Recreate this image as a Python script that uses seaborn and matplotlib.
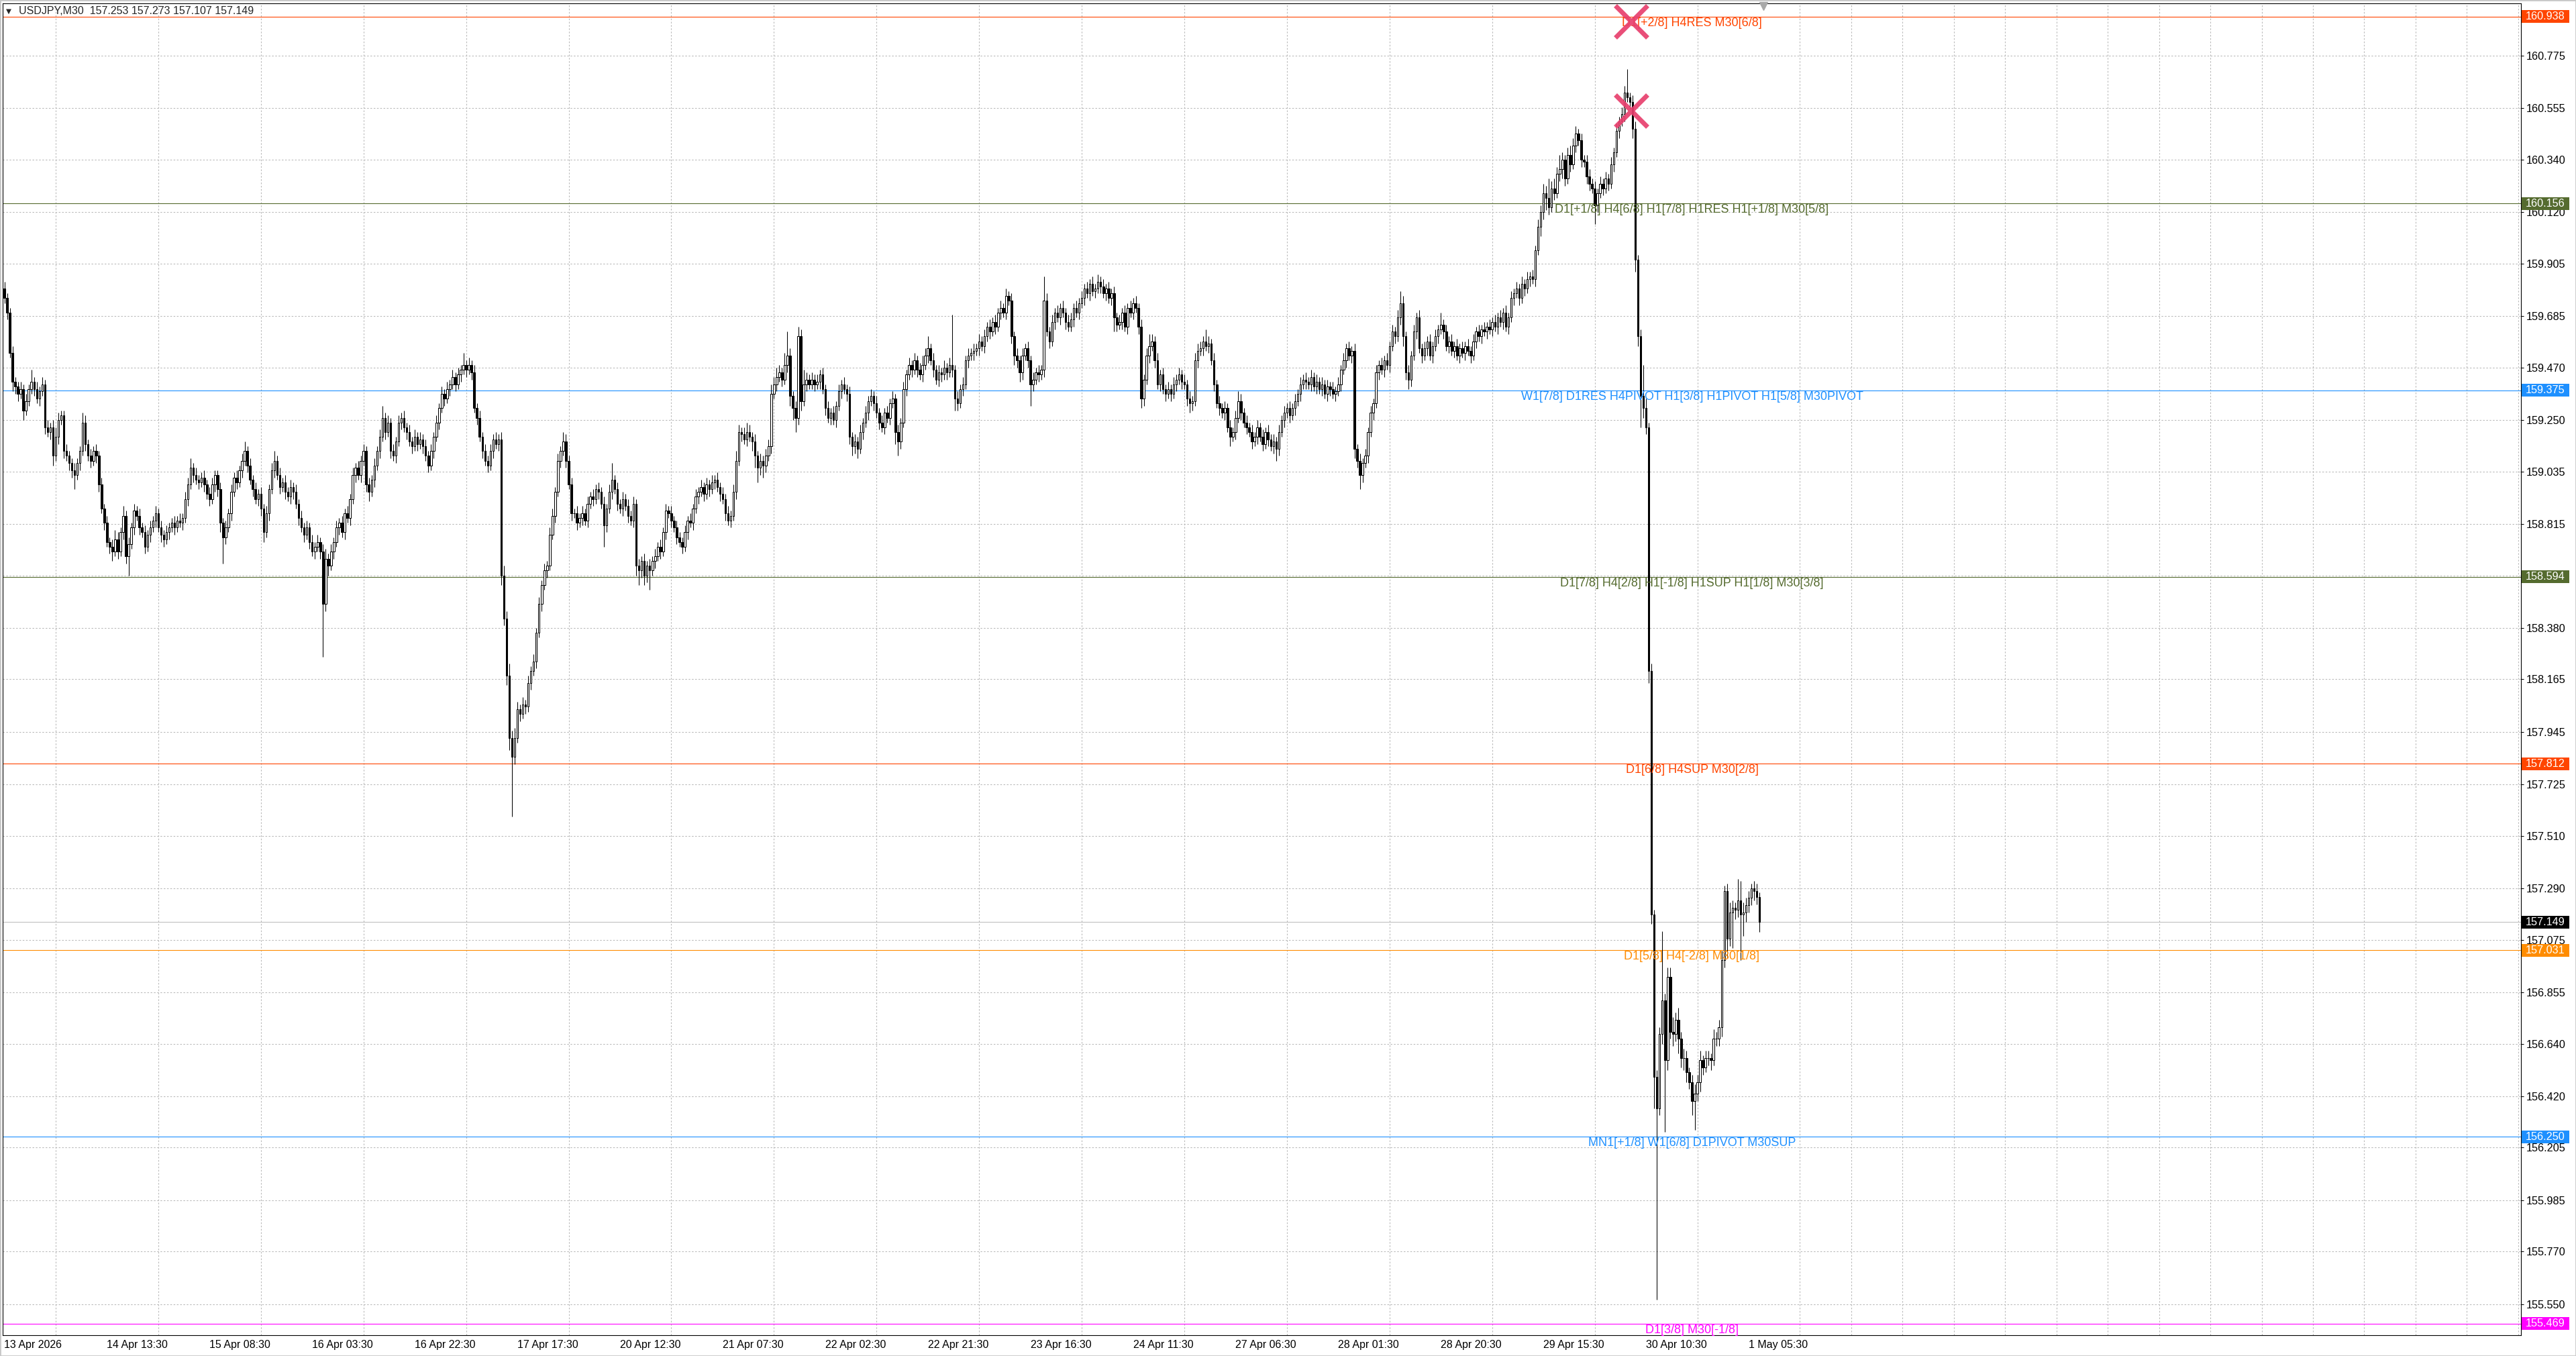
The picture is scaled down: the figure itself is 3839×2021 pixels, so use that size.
"""
USDJPY M30 - gráfico de velas con niveles Murrey (réplica de captura MT4).
"""

import numpy as np
import pandas as pd
import matplotlib
matplotlib.use("Agg")
import matplotlib.pyplot as plt
import matplotlib.transforms as mtransforms
from matplotlib.patches import Rectangle
import seaborn as sns

# ---------------------------------------------------------------------------
# Datos (cierres M30; mechas en centésimas de yen)
# ---------------------------------------------------------------------------
first_open = 159.80

close_apr13 = [159.76, 159.70, 159.53, 159.41, 159.39, 159.36, 159.38, 159.29, 159.33, 159.38, 159.41]
hi_apr13 = [3, 2, 2, 3, 2, 2, 3, 2, 3, 2, 5]
lo_apr13 = [2, 3, 2, 4, 3, 3, 2, 4, 2, 2, 2]

close_apr14 = [159.38, 159.34, 159.37, 159.40, 159.22, 159.20, 159.22, 159.10, 159.18, 159.25,
               159.27, 159.12, 159.10, 159.07, 159.04, 159.02, 159.07, 159.12, 159.24, 159.15,
               159.10, 159.08, 159.12, 159.10, 158.98, 158.88, 158.82, 158.74, 158.72, 158.70,
               158.75, 158.70, 158.78, 158.85, 158.68, 158.73, 158.80, 158.87, 158.85, 158.80,
               158.78, 158.72, 158.77, 158.80, 158.83, 158.86, 158.80, 158.77]
hi_apr14 = [2, 3, 2, 3, 2, 3, 2, 3, 4, 3, 2, 2, 3, 2, 2, 3, 2, 2, 4, 3, 2, 3, 2, 3, 2, 3, 2, 3, 2, 3,
            4, 3, 2, 4, 2, 3, 2, 3, 2, 3, 2, 3, 2, 3, 2, 3, 2, 3]
lo_apr14 = [3, 2, 3, 2, 3, 2, 3, 4, 2, 3, 2, 3, 2, 3, 3, 6, 2, 3, 2, 3, 2, 3, 2, 3, 3, 2, 3, 2, 3, 4,
            2, 3, 2, 3, 3, 8, 2, 3, 2, 3, 2, 3, 2, 3, 2, 3, 2, 3]

close_apr15 = [158.75, 158.78, 158.80, 158.82, 158.80, 158.83, 158.82, 158.84, 158.92, 158.98,
               159.05, 159.02, 159.00, 158.99, 159.01, 158.98, 158.94, 158.92, 158.98, 159.02,
               158.96, 158.82, 158.76, 158.80, 158.86, 158.95, 159.01, 158.99, 159.04, 159.08,
               159.12, 159.06, 159.00, 158.96, 158.92, 158.94, 158.88, 158.78, 158.86, 158.96,
               159.04, 159.08, 159.02, 158.97, 158.99, 158.95, 158.93, 158.97]
hi_apr15 = [2, 3, 2, 2, 3, 2, 3, 2, 3, 3, 4, 2, 3, 2, 2, 3, 2, 3, 3, 2, 2, 3, 2, 3, 2, 3, 2, 3, 2, 3,
            4, 2, 3, 2, 3, 2, 3, 2, 3, 2, 3, 4, 2, 3, 2, 3, 2, 3]
lo_apr15 = [3, 2, 3, 2, 3, 2, 2, 3, 2, 3, 2, 3, 2, 3, 2, 3, 2, 3, 2, 3, 3, 4, 11, 3, 2, 3, 2, 3, 2, 3,
            2, 3, 2, 3, 2, 3, 3, 4, 2, 3, 2, 3, 2, 3, 2, 3, 2, 3]

close_apr16 = [158.95, 158.90, 158.84, 158.80, 158.77, 158.80, 158.74, 158.70, 158.72, 158.74,
               158.70, 158.48, 158.67, 158.64, 158.70, 158.74, 158.80, 158.82, 158.78, 158.86,
               158.84, 158.92, 159.02, 159.05, 159.02, 159.08, 159.12, 158.98, 158.95, 159.00,
               159.06, 159.12, 159.18, 159.26, 159.20, 159.24, 159.12, 159.10, 159.16, 159.24,
               159.26, 159.22, 159.20, 159.16, 159.14, 159.18, 159.15, 159.17]
hi_apr16 = [2, 3, 2, 3, 2, 3, 2, 3, 2, 3, 2, 3, 4, 2, 3, 2, 3, 2, 3, 2, 3, 2, 3, 2, 3, 2, 3, 2, 3, 2,
            3, 2, 3, 5, 2, 3, 2, 3, 2, 3, 2, 3, 2, 3, 2, 3, 2, 3]
lo_apr16 = [3, 2, 3, 2, 3, 2, 3, 2, 3, 2, 3, 22, 3, 4, 2, 3, 2, 3, 2, 3, 2, 3, 2, 3, 2, 3, 2, 3, 4, 2,
            3, 2, 3, 2, 3, 2, 3, 2, 3, 2, 3, 2, 3, 2, 3, 2, 3, 2]

close_apr17 = [159.14, 159.10, 159.06, 159.12, 159.18, 159.24, 159.30, 159.36, 159.34, 159.38,
               159.40, 159.43, 159.40, 159.44, 159.46, 159.48, 159.46, 159.48, 159.45, 159.30,
               159.26, 159.18, 159.12, 159.08, 159.06, 159.12, 159.17, 159.15, 159.17, 158.60,
               158.42, 158.18, 157.92, 157.84, 157.92, 158.04, 158.02, 158.06, 158.05, 158.15,
               158.20, 158.24, 158.36, 158.48, 158.56, 158.62, 158.64, 158.77]
hi_apr17 = [2, 3, 2, 3, 2, 3, 2, 3, 2, 3, 2, 3, 2, 3, 2, 5, 2, 3, 2, 3, 2, 3, 2, 3, 2, 3, 2, 3, 2, 3,
            4, 3, 5, 3, 4, 3, 2, 3, 2, 3, 2, 3, 2, 3, 2, 3, 2, 3]
lo_apr17 = [3, 2, 3, 2, 3, 2, 3, 2, 3, 2, 3, 2, 3, 2, 3, 2, 3, 2, 3, 2, 3, 2, 3, 2, 3, 2, 3, 2, 3, 4,
            3, 4, 5, 25, 3, 2, 3, 2, 3, 2, 3, 2, 3, 2, 3, 2, 3, 2]

close_apr20 = [158.85, 158.95, 159.08, 159.12, 159.16, 159.08, 158.98, 158.86, 158.86, 158.82,
               158.84, 158.86, 158.83, 158.90, 158.93, 158.92, 158.96, 158.95, 158.90, 158.81,
               158.88, 158.95, 159.00, 158.96, 158.90, 158.88, 158.92, 158.89, 158.85, 158.83,
               158.90, 158.64, 158.62, 158.66, 158.60, 158.64, 158.62, 158.66, 158.68, 158.72,
               158.70, 158.78, 158.87, 158.86, 158.83, 158.80, 158.76, 158.74]
hi_apr20 = [3, 2, 3, 2, 4, 3, 2, 3, 2, 3, 2, 3, 2, 3, 2, 3, 2, 3, 2, 3, 2, 3, 7, 2, 3, 2, 3, 2, 3, 2,
            3, 2, 3, 2, 3, 2, 3, 2, 3, 2, 3, 2, 3, 2, 3, 2, 3, 2]
lo_apr20 = [2, 3, 2, 3, 2, 3, 2, 3, 2, 3, 2, 3, 2, 3, 2, 3, 2, 3, 2, 9, 3, 2, 3, 2, 3, 2, 3, 2, 3, 2,
            3, 4, 6, 3, 4, 3, 8, 2, 3, 2, 3, 2, 3, 2, 3, 2, 3, 2]

close_apr21 = [158.72, 158.78, 158.83, 158.82, 158.88, 158.93, 158.95, 158.97, 158.94, 158.98,
               158.96, 158.99, 159.00, 158.97, 158.94, 158.92, 158.86, 158.83, 158.85, 158.95,
               159.08, 159.20, 159.19, 159.17, 159.20, 159.18, 159.16, 159.10, 159.05, 159.08,
               159.06, 159.10, 159.14, 159.36, 159.40, 159.43, 159.45, 159.42, 159.48, 159.52,
               159.35, 159.30, 159.26, 159.60, 159.33, 159.40, 159.42, 159.40]
hi_apr21 = [2, 3, 2, 3, 2, 3, 2, 3, 2, 3, 2, 3, 2, 3, 2, 3, 2, 3, 2, 3, 4, 3, 2, 3, 4, 3, 2, 3, 2, 3,
            2, 3, 3, 4, 3, 4, 3, 2, 5, 10, 3, 2, 3, 4, 3, 6, 3, 2]
lo_apr21 = [3, 2, 3, 2, 3, 2, 3, 2, 3, 2, 3, 2, 3, 2, 3, 2, 3, 2, 3, 2, 3, 2, 3, 2, 3, 2, 4, 5, 6, 3,
            5, 3, 2, 3, 2, 3, 2, 3, 2, 3, 4, 5, 6, 3, 4, 2, 3, 2]

close_apr22 = [159.42, 159.40, 159.41, 159.44, 159.38, 159.30, 159.26, 159.28, 159.25, 159.31,
               159.37, 159.40, 159.38, 159.36, 159.18, 159.14, 159.16, 159.13, 159.20, 159.24,
               159.28, 159.33, 159.35, 159.32, 159.28, 159.24, 159.22, 159.28, 159.26, 159.32,
               159.34, 159.20, 159.16, 159.24, 159.38, 159.44, 159.48, 159.46, 159.50, 159.46,
               159.44, 159.48, 159.52, 159.55, 159.50, 159.46, 159.42, 159.45]
hi_apr22 = [3, 2, 3, 2, 3, 2, 3, 2, 3, 2, 3, 2, 3, 2, 3, 2, 3, 2, 3, 2, 3, 2, 3, 2, 3, 2, 3, 2, 3, 2,
            3, 2, 3, 2, 3, 2, 3, 2, 3, 2, 3, 4, 3, 5, 2, 3, 2, 3]
lo_apr22 = [2, 3, 2, 3, 2, 3, 2, 3, 2, 3, 2, 3, 2, 3, 3, 4, 3, 4, 2, 3, 2, 3, 2, 3, 2, 3, 2, 3, 2, 3,
            2, 5, 6, 3, 2, 3, 2, 3, 2, 3, 2, 3, 2, 3, 2, 3, 2, 3]

close_apr23 = [159.44, 159.47, 159.45, 159.48, 159.46, 159.34, 159.32, 159.38, 159.40, 159.50,
               159.52, 159.53, 159.54, 159.55, 159.58, 159.56, 159.60, 159.64, 159.62, 159.66,
               159.64, 159.70, 159.72, 159.70, 159.77, 159.75, 159.60, 159.52, 159.50, 159.45,
               159.52, 159.55, 159.50, 159.40, 159.42, 159.45, 159.44, 159.46, 159.75, 159.62,
               159.58, 159.66, 159.70, 159.68, 159.72, 159.70, 159.66, 159.64]
hi_apr23 = [2, 3, 2, 3, 21, 2, 3, 2, 3, 2, 3, 2, 3, 2, 3, 2, 3, 2, 3, 2, 3, 2, 3, 2, 3, 2, 3, 2, 3, 2,
            3, 2, 3, 2, 3, 2, 3, 2, 10, 3, 2, 3, 2, 3, 2, 3, 2, 3]
lo_apr23 = [3, 2, 3, 2, 3, 5, 3, 2, 3, 2, 3, 2, 3, 2, 3, 2, 3, 2, 3, 2, 3, 2, 3, 2, 3, 2, 3, 4, 3, 4,
            3, 2, 3, 9, 3, 2, 3, 2, 3, 2, 3, 2, 3, 2, 3, 2, 3, 2]

close_apr24 = [159.67, 159.72, 159.70, 159.74, 159.76, 159.80, 159.78, 159.82, 159.79, 159.80,
               159.83, 159.81, 159.78, 159.80, 159.76, 159.78, 159.68, 159.65, 159.66, 159.70,
               159.64, 159.72, 159.70, 159.74, 159.72, 159.64, 159.34, 159.42, 159.52, 159.56,
               159.58, 159.50, 159.40, 159.44, 159.38, 159.36, 159.38, 159.36, 159.40, 159.42,
               159.44, 159.41, 159.40, 159.34, 159.32, 159.33, 159.50, 159.54]
hi_apr24 = [3, 2, 3, 2, 3, 2, 3, 2, 3, 2, 3, 2, 3, 2, 3, 2, 3, 2, 3, 2, 3, 2, 3, 2, 3, 2, 3, 2, 3, 5,
            3, 2, 3, 2, 3, 2, 3, 2, 3, 2, 3, 2, 3, 2, 3, 2, 3, 3]
lo_apr24 = [2, 3, 2, 3, 2, 3, 2, 3, 2, 3, 2, 3, 2, 3, 2, 3, 6, 3, 2, 3, 2, 3, 2, 3, 2, 3, 4, 3, 2, 3,
            2, 3, 2, 3, 2, 3, 2, 3, 2, 3, 2, 3, 2, 3, 4, 3, 2, 3]

close_apr27 = [159.55, 159.58, 159.56, 159.57, 159.50, 159.40, 159.32, 159.30, 159.28, 159.30,
               159.22, 159.18, 159.20, 159.26, 159.33, 159.28, 159.24, 159.22, 159.20, 159.16,
               159.18, 159.22, 159.18, 159.15, 159.20, 159.17, 159.14, 159.16, 159.13, 159.20,
               159.25, 159.28, 159.30, 159.27, 159.30, 159.33, 159.36, 159.40, 159.42, 159.41,
               159.40, 159.43, 159.39, 159.41, 159.38, 159.40, 159.36, 159.39]
hi_apr27 = [3, 2, 5, 3, 2, 3, 2, 3, 2, 3, 2, 3, 2, 3, 4, 3, 2, 3, 2, 3, 2, 3, 2, 3, 2, 3, 2, 3, 2, 3,
            2, 3, 2, 3, 2, 3, 2, 3, 2, 3, 2, 3, 2, 3, 2, 3, 2, 3]
lo_apr27 = [2, 3, 2, 3, 2, 3, 2, 3, 2, 3, 2, 4, 2, 3, 2, 3, 2, 3, 2, 3, 2, 3, 2, 3, 2, 3, 2, 3, 5, 3,
            2, 3, 2, 3, 2, 3, 2, 3, 2, 3, 2, 3, 2, 3, 2, 3, 2, 3]

close_apr28 = [159.38, 159.36, 159.37, 159.40, 159.46, 159.50, 159.55, 159.52, 159.54, 159.13,
               159.08, 159.02, 159.07, 159.10, 159.20, 159.28, 159.32, 159.45, 159.48, 159.46,
               159.50, 159.48, 159.56, 159.62, 159.60, 159.68, 159.74, 159.60, 159.45, 159.42,
               159.52, 159.62, 159.68, 159.55, 159.52, 159.55, 159.58, 159.52, 159.56, 159.60,
               159.63, 159.65, 159.62, 159.56, 159.58, 159.54, 159.56, 159.52]
hi_apr28 = [2, 3, 2, 3, 2, 3, 2, 3, 2, 3, 2, 3, 2, 3, 2, 3, 2, 3, 2, 3, 2, 3, 2, 3, 2, 3, 5, 3, 2, 3,
            2, 3, 2, 3, 2, 3, 2, 3, 2, 3, 2, 5, 2, 3, 2, 3, 2, 3]
lo_apr28 = [3, 2, 3, 2, 3, 2, 3, 2, 3, 4, 3, 6, 3, 2, 3, 2, 3, 2, 3, 2, 3, 2, 3, 2, 3, 2, 3, 4, 3, 4,
            3, 2, 3, 2, 3, 2, 3, 2, 3, 2, 3, 2, 3, 2, 3, 2, 3, 2]

close_apr29 = [159.55, 159.53, 159.56, 159.54, 159.52, 159.58, 159.62, 159.60, 159.63, 159.62,
               159.64, 159.63, 159.66, 159.64, 159.68, 159.66, 159.70, 159.64, 159.68, 159.76,
               159.78, 159.80, 159.76, 159.82, 159.80, 159.84, 159.85, 159.84, 159.96, 160.06,
               160.12, 160.20, 160.18, 160.14, 160.22, 160.20, 160.28, 160.30, 160.34, 160.26,
               160.36, 160.32, 160.40, 160.45, 160.42, 160.34, 160.33, 160.27]
hi_apr29 = [2, 3, 2, 3, 2, 3, 2, 3, 2, 3, 2, 3, 2, 3, 2, 3, 2, 3, 2, 3, 2, 3, 2, 3, 2, 3, 2, 3, 2, 3,
            3, 4, 3, 8, 3, 4, 3, 6, 3, 2, 3, 4, 3, 3, 2, 3, 2, 3]
lo_apr29 = [3, 2, 3, 2, 3, 2, 3, 2, 3, 2, 3, 2, 3, 2, 3, 2, 3, 2, 3, 2, 3, 2, 3, 2, 3, 2, 3, 2, 3, 2,
            4, 3, 5, 3, 2, 3, 2, 3, 4, 3, 2, 3, 2, 3, 2, 3, 2, 3]

close_apr30 = [160.24, 160.22, 160.15, 160.20, 160.24, 160.22, 160.26, 160.24, 160.32, 160.37,
               160.46, 160.50, 160.53, 160.62, 160.60, 160.58, 160.47, 159.92, 159.60, 159.35,
               159.30, 159.22, 158.20, 157.18, 156.50, 156.37, 156.68, 156.82, 156.57, 156.92,
               156.69, 156.68, 156.74, 156.66, 156.58, 156.58, 156.52, 156.48, 156.40, 156.43,
               156.48, 156.57, 156.54, 156.58, 156.58, 156.57, 156.66, 156.66]
hi_apr30 = [3, 2, 3, 2, 3, 2, 3, 2, 3, 2, 3, 2, 3, 3, 10, 2, 3, 3, 2, 3, 13, 4, 2, 3, 2, 3, 3, 29, 3, 4,
            4, 6, 3, 5, 3, 4, 3, 2, 3, 4, 3, 4, 2, 3, 3, 2, 4, 3]
lo_apr30 = [3, 2, 8, 3, 2, 3, 2, 3, 2, 3, 2, 3, 2, 3, 2, 3, 4, 5, 4, 13, 4, 3, 5, 4, 13, 80, 3, 4, 30, 4,
            3, 5, 3, 6, 4, 5, 4, 3, 6, 12, 3, 4, 3, 2, 3, 4, 2, 3]

close_may01 = [156.71, 156.99, 157.28, 157.08, 157.19, 157.21, 157.20, 157.24, 157.18, 157.19,
               157.22, 157.25, 157.29, 157.28, 157.253, 157.149]
hi_may01 = [3, 4, 2, 3, 4, 3, 2, 9, 8, 4, 3, 3, 2, 3, 3, 2]
lo_may01 = [3, 4, 3, 8, 3, 15, 4, 3, 19, 9, 4, 3, 3, 4, 3, 4.2]

# niveles horizontales
level_prices = [160.938, 160.156, 159.375, 158.594, 157.812, 157.031, 156.250, 155.469]
level_colors = ['#FF4500', '#556B2F', '#1E90FF', '#556B2F', '#FF4500', '#FF8C00', '#1E90FF', '#FF00FF']
level_texts = ['D1[+2/8] H4RES M30[6/8]',
               'D1[+1/8] H4[6/8] H1[7/8] H1RES H1[+1/8] M30[5/8]',
               'W1[7/8] D1RES H4PIVOT H1[3/8] H1PIVOT H1[5/8] M30PIVOT',
               'D1[7/8] H4[2/8] H1[-1/8] H1SUP H1[1/8] M30[3/8]',
               'D1[6/8] H4SUP M30[2/8]',
               'D1[5/8] H4[-2/8] M30[1/8]',
               'MN1[+1/8] W1[6/8] D1PIVOT M30SUP',
               'D1[3/8] M30[-1/8]']
last_price = 157.149
header_text = 'USDJPY,M30  157.253 157.273 157.107 157.149'

# marcas X (rosa)
cross_bar = [602.4, 602.4]
cross_price = [160.918, 160.545]

y_ticks = [160.775, 160.555, 160.340, 160.120, 159.905, 159.685, 159.470, 159.250, 159.035,
           158.815, 158.600, 158.380, 158.165, 157.945, 157.725, 157.510, 157.290, 157.075,
           156.855, 156.640, 156.420, 156.205, 155.985, 155.770, 155.550]
x_labels = ['13 Apr 2026', '14 Apr 13:30', '15 Apr 08:30', '16 Apr 03:30', '16 Apr 22:30',
            '17 Apr 17:30', '20 Apr 12:30', '21 Apr 07:30', '22 Apr 02:30', '22 Apr 21:30',
            '23 Apr 16:30', '24 Apr 11:30', '27 Apr 06:30', '28 Apr 01:30', '28 Apr 20:30',
            '29 Apr 15:30', '30 Apr 10:30', '1 May 05:30']

# ---------------------------------------------------------------------------
# Construcción OHLC
# ---------------------------------------------------------------------------
closes = np.array(close_apr13 + close_apr14 + close_apr15 + close_apr16 + close_apr17
                  + close_apr20 + close_apr21 + close_apr22 + close_apr23 + close_apr24
                  + close_apr27 + close_apr28 + close_apr29 + close_apr30 + close_may01)
wick_hi = np.array(hi_apr13 + hi_apr14 + hi_apr15 + hi_apr16 + hi_apr17
                   + hi_apr20 + hi_apr21 + hi_apr22 + hi_apr23 + hi_apr24
                   + hi_apr27 + hi_apr28 + hi_apr29 + hi_apr30 + hi_may01) / 100.0
wick_lo = np.array(lo_apr13 + lo_apr14 + lo_apr15 + lo_apr16 + lo_apr17
                   + lo_apr20 + lo_apr21 + lo_apr22 + lo_apr23 + lo_apr24
                   + lo_apr27 + lo_apr28 + lo_apr29 + lo_apr30 + lo_may01) / 100.0
assert len(closes) == len(wick_hi) == len(wick_lo)

opens = np.concatenate([[first_open], closes[:-1]])
df = pd.DataFrame({'open': opens, 'close': closes})
df['high'] = df[['open', 'close']].max(axis=1) + wick_hi
df['low'] = df[['open', 'close']].min(axis=1) - wick_lo
df['bar'] = np.arange(len(df))
up = df['close'] >= df['open']

# ---------------------------------------------------------------------------
# Geometría (píxeles de la captura)
# ---------------------------------------------------------------------------
W, H, DPI = 3839, 2021, 100
AX_L, AX_R, AX_T, AX_B = 4, 3757, 5, 1990
PX_PER_BAR = 4.024
BAR0_X = 6.5
LABEL_BAR = 625
BARS_PER_LABEL = 38
Y_MIN, Y_MAX = 155.42, 160.994

sns.set_style("white")
plt.rcParams['font.family'] = ['Liberation Sans', 'DejaVu Sans']

fig = plt.figure(figsize=(W / DPI, H / DPI), dpi=DPI)
fig.patch.set_facecolor('white')
ax = fig.add_axes([AX_L / W, 1 - AX_B / H, (AX_R - AX_L) / W, (AX_B - AX_T) / H])
ax.set_xlim((AX_L - BAR0_X) / PX_PER_BAR, (AX_R - BAR0_X) / PX_PER_BAR)
ax.set_ylim(Y_MIN, Y_MAX)
px_per_yen = (AX_B - AX_T) / (Y_MAX - Y_MIN)

# rejilla
ax.set_xticks(np.arange(0, ax.get_xlim()[1], BARS_PER_LABEL / 2), minor=True)
ax.set_xticks(np.arange(len(x_labels)) * BARS_PER_LABEL)
ax.set_xticklabels(x_labels, ha='left')
ax.set_yticks(y_ticks)
ax.set_yticklabels([f'{v:.3f}' for v in y_ticks])
grid_kw = dict(color='#BABABA', linestyle=(0, (2.2, 2.2)), linewidth=0.8)
ax.grid(which='minor', axis='x', **grid_kw)
ax.grid(which='major', axis='y', **grid_kw)
ax.grid(which='major', axis='x', visible=False)
ax.set_axisbelow(True)

ax.yaxis.tick_right()
ax.tick_params(axis='y', direction='out', length=2.9, width=0.75, pad=2.9,
               labelsize=11.7, colors='black')
ax.tick_params(axis='x', which='major', direction='out', length=2.2, width=0.75, pad=3.0,
               labelsize=11.5, colors='black')
ax.tick_params(axis='x', which='minor', length=0)
for s in ax.spines.values():
    s.set_color('black')
    s.set_linewidth(0.8)

# velas
ax.vlines(df['bar'], df['low'], df['high'], color='black', linewidth=0.75, zorder=3)
ax.bar(df['bar'][up], (df['close'] - df['open'])[up], bottom=df['open'][up], width=0.62,
       color='white', edgecolor='black', linewidth=0.75, zorder=4)
ax.bar(df['bar'][~up], (df['open'] - df['close'])[~up], bottom=df['close'][~up], width=0.62,
       color='black', edgecolor='black', linewidth=0.75, zorder=4)

# niveles
blend = mtransforms.blended_transform_factory(ax.transAxes, ax.transData)
box_x0 = (AX_R + 1 - AX_L) / (AX_R - AX_L)
box_x1 = (3829 - AX_L) / (AX_R - AX_L)
box_h = 19 / px_per_yen


def price_box(price, color):
    ax.add_patch(Rectangle((box_x0, price - box_h / 2), box_x1 - box_x0, box_h,
                           transform=blend, facecolor=color, edgecolor='none',
                           clip_on=False, zorder=6))
    ax.text((box_x0 + box_x1) / 2, price, f'{price:.3f}', transform=blend,
            ha='center', va='center', color='white', fontsize=11.7,
            clip_on=False, zorder=7)


ax.axhline(last_price, color='#C0C0C0', linewidth=0.8, zorder=2)
price_box(last_price, 'black')

for price, color, text in zip(level_prices, level_colors, level_texts):
    ax.axhline(price, color=color, linewidth=0.8, zorder=2)
    ax.annotate(text, xy=(LABEL_BAR, price), xytext=(0, -1), textcoords='offset pixels',
                ha='center', va='top', color=color, fontsize=13, zorder=5)
    price_box(price, color)

# marcas X
ax.plot(cross_bar, cross_price, linestyle='none', marker='x', markersize=34,
        markeredgewidth=5, color='#E8406E', alpha=0.92, zorder=8)

# marcador de desplazamiento (triángulo gris)
ax.plot([len(df) + 0.5], [1 - 4 / (AX_B - AX_T)], marker='v', markersize=9,
        color='#A8A8A8', transform=mtransforms.blended_transform_factory(ax.transData, ax.transAxes),
        clip_on=False, zorder=8)

# cabecera
fig.text(9 / W, 1 - 16.5 / H, '\u25bc', fontsize=7.5, va='center', ha='left',
         family=['DejaVu Sans'])
fig.text(28 / W, 1 - 16.5 / H, header_text, fontsize=11.5, va='center', ha='left')

# marco exterior
fig.patches.append(Rectangle((0, 0), 1, 1, transform=fig.transFigure, fill=False,
                             edgecolor='#C8C8C8', linewidth=2))

fig.savefig('out.png', dpi=DPI, facecolor='white')
